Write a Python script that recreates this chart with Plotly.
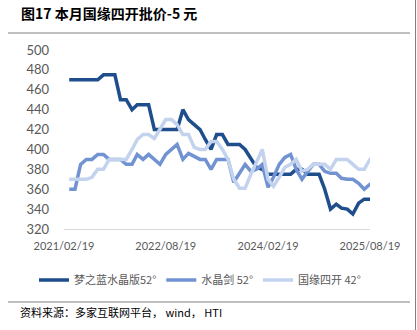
import plotly.graph_objects as go
import pandas as pd

# ---- data (monthly) ----
dates = [d.strftime("%Y-%m-%d") for d in pd.date_range("2021-02-19", periods=55, freq="MS") + pd.Timedelta(days=18)]

mzl = [470, 470, 470, 470, 470, 470, 475, 475, 475, 450,
       450, 440, 445, 445, 445, 420, 420, 420, 420, 420,
       440, 430, 425, 420, 410, 400, 415, 415, 405, 405,
       405, 400, 390, 382, 380, 375, 375, 375, 375, 375,
       380, 380, 375, 375, 375, 360, 340, 345, 341, 340,
       335, 346, 350, 350, 350]

sjj = [360, 360, 385, 390, 390, 395, 395, 390, 390, 390,
       385, 385, 395, 390, 395, 390, 385, 395, 400, 405,
       390, 396, 393, 390, 390, 380, 390, 390, 390, 367,
       376, 385, 378, 380, 385, 362, 372, 385, 392, 395,
       380, 370, 378, 385, 385, 378, 376, 376, 371, 370,
       370, 366, 360, 365, 365]

gysk = [370, 370, 370, 370, 372, 380, 380, 390, 390, 390,
        390, 400, 410, 415, 415, 411, 420, 430, 430, 425,
        415, 415, 402, 400, 400, 408, 408, 400, 390, 370,
        361, 361, 375, 388, 400, 370, 363, 372, 382, 385,
        390, 378, 380, 385, 385, 385, 380, 390, 390, 390,
        385, 380, 380, 390, 385]

names = ["梦之蓝水晶版52°", "水晶剑 52°", "国缘四开 42°"]
colors = ["#1F4E8C", "#7293D2", "#C3D3EE"]
tick_dates = ["2021-02-19", "2022-08-19", "2024-02-19", "2025-08-19"]
tick_text = ["2021/02/19", "2022/08/19", "2024/02/19", "2025/08/19"]
y_ticks = [320, 340, 360, 380, 400, 420, 440, 460, 480, 500]

title_text = "图17 本月国缘四开批价-5 元"
source_text = "资料来源：多家互联网平台， wind， HTI"

# ---- figure ----
W, H = 417, 330
L, R, T, B = 64, 47, 50, 101
pw, ph = W - L - R, H - T - B

def px(x):
    return (x - L) / pw

def py(y):
    return (H - B - y) / ph

fig = go.Figure()
for name, ys, c in zip(names, [mzl, sjj, gysk], colors):
    fig.add_trace(go.Scatter(x=dates, y=ys, name=name, mode="lines",
                             line=dict(color=c, width=3.5)))

CJK = "Noto Sans CJK SC"
fig.update_layout(
    width=W, height=H, autosize=False,
    margin=dict(l=L, r=R, t=T, b=B),
    paper_bgcolor="white", plot_bgcolor="white",
    showlegend=True,
    legend=dict(orientation="h", x=px(34), xanchor="left", y=py(280), yanchor="middle",
                font=dict(family=CJK, size=11, color="#595959"),
                itemwidth=30, tracegroupgap=0, bgcolor="rgba(0,0,0,0)"),
    xaxis=dict(type="date", range=[tick_dates[0], tick_dates[-1]],
               tickvals=tick_dates, ticktext=tick_text,
               showgrid=False, zeroline=False, showline=True, linecolor="#D9D9D9", linewidth=1,
               ticks="", tickfont=dict(family="Lato", size=11, color="#595959"),
               ticklabelstandoff=7),
    yaxis=dict(range=[320, 500], tickvals=y_ticks, showgrid=False, zeroline=False,
               showline=False, ticks="", tickfont=dict(family="Lato", size=13, color="#595959"),
               ticklabelstandoff=14),
)

fig.add_annotation(text="<b>" + title_text + "</b>", xref="paper", yref="paper",
                   x=px(19), y=py(13), xanchor="left", yanchor="middle", showarrow=False,
                   font=dict(family=CJK, size=14, color="#000000"))
fig.add_annotation(text=source_text, xref="paper", yref="paper",
                   x=px(18), y=py(312), xanchor="left", yanchor="middle", showarrow=False,
                   font=dict(family=CJK, size=11, color="#000000"))

for y in (33, 302):
    fig.add_shape(type="line", xref="paper", yref="paper", x0=px(8), x1=px(410),
                  y0=py(y), y1=py(y), line=dict(color="#808080", width=1))
fig.add_shape(type="line", xref="paper", yref="paper", x0=px(415.5), x1=px(415.5),
              y0=py(0), y1=py(330), line=dict(color="#808080", width=1))

fig.write_html("out.html")
